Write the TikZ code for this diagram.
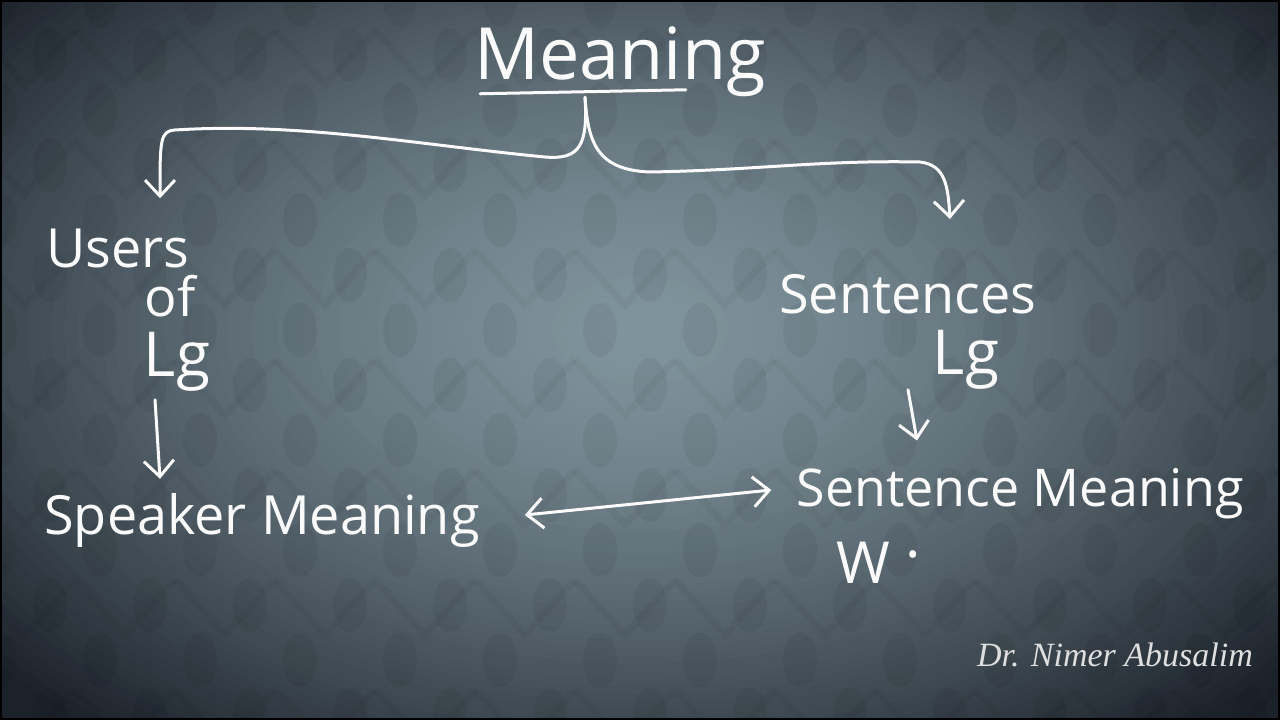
\documentclass[tikz,border=0pt]{standalone}
\usepackage{fontspec}
\setmainfont{Open Sans}
\newfontfamily\signfont{Liberation Serif}
\usetikzlibrary{arrows.meta,positioning,calc}
\definecolor{slatecentre}{RGB}{128,148,157}
\definecolor{slateedge}{RGB}{28,34,42}
\definecolor{chalk}{RGB}{250,250,250}
\definecolor{signgray}{RGB}{222,222,222}

\begin{document}
\begin{tikzpicture}[x=1pt, y=-1pt,
    word/.style={text=chalk, font=\fontsize{54}{60}\selectfont, inner sep=0pt},
    bigword/.style={word, font=\fontsize{72}{80}\selectfont},
    lgword/.style={word, font=\fontsize{62}{68}\selectfont},
    arrow/.style={-{Straight Barb[length=16pt,width=30pt]}, chalk, line width=3pt, line cap=round, line join=round},
    twoway/.style={arrow, {Straight Barb[length=16pt,width=30pt]}-{Straight Barb[length=16pt,width=30pt]}},
    motif/.style={fill=black, fill opacity=0.05}
    ]

    % background
    \useasboundingbox (0,0) rectangle (1280,720);
    \begin{scope}
      \clip (0,0) rectangle (1280,720);
      \fill[slateedge] (0,0) rectangle (1280,720);
      \foreach \k in {80,...,1} {
        \pgfmathsetmacro\rr{\k/68}
        \pgfmathtruncatemacro\p{max(0,100*(1-\rr*sqrt(\rr)))}
        \fill[slatecentre!\p!slateedge] (640,330) ellipse ({12.5*\k} and {7.75*\k});
      }
      \foreach \i in {0,...,13} {
        \foreach \j in {0,...,7} {
          \fill[motif] (\i*100,\j*110) ellipse (17 and 27);
          \fill[motif] (\i*100+50,\j*110+55) ellipse (17 and 27);
          \draw[black, opacity=0.035, line width=7pt] (\i*100-25,\j*110+30) -- (\i*100+25,\j*110+85) -- (\i*100+75,\j*110+30);
        }
      }
    \end{scope}
    \draw[black, line width=4pt] (0,0) rectangle (1280,720);

    \node[bigword] (meaning) at (620,62) {Meaning};
    \node[word] (users) at (118,248) {Users};
    \node[word] (of) at (170,296) {of};
    \node[lgword] (lg1) at (177,362) {Lg};
    \node[word] (speaker) at (262,520) {Speaker Meaning};
    \node[word] (sentences) at (908,294) {Sentences};
    \node[lgword] (lg2) at (966,360) {Lg};
    \node[word, font=\fontsize{52}{58}\selectfont] (sentmeaning) at (1020,494) {Sentence Meaning};
    \node[word, anchor=west, font=\fontsize{58}{64}\selectfont] (w) at (836,563) {W\hspace{16pt}\smash{\raisebox{26pt}{.}}};
    \node[text=signgray, font=\signfont\itshape\fontsize{34}{38}\selectfont] (sign) at (1115,655) {Dr. Nimer Abusalim};

    \draw[chalk, line width=3pt, line cap=round] ($(meaning.base west)+(6,14)$) -- ($(meaning.base east)+(-80,10)$);

    % brace
    \draw[arrow] ($(meaning.south)+(-35,0)$) .. controls (588,145) and (580,160) .. (545,157)
        .. controls (420,145) and (300,122) .. (175,130)
        .. controls (160,131) and (160,140) .. ($(users.north)+(42,-30)$);
    \draw[arrow] ($(meaning.south)+(-35,0)$) .. controls (588,140) and (595,170) .. (650,172)
        .. controls (760,170) and (820,160) .. (920,162)
        .. controls (945,165) and (948,185) .. ($(sentences.north)+(42,-55)$);

    \draw[arrow] ($(lg1.south)+(-22,8)$) -- ($(speaker.north)+(-102,-14)$);
    \draw[arrow] ($(lg2.south)+(-58,0)$) -- ($(sentmeaning.north)+(-103,-28)$);
    \draw[twoway] ($(speaker.east)+(45,-5)$) -- ($(sentmeaning.west)+(-25,-4)$);
\end{tikzpicture}
\end{document}
